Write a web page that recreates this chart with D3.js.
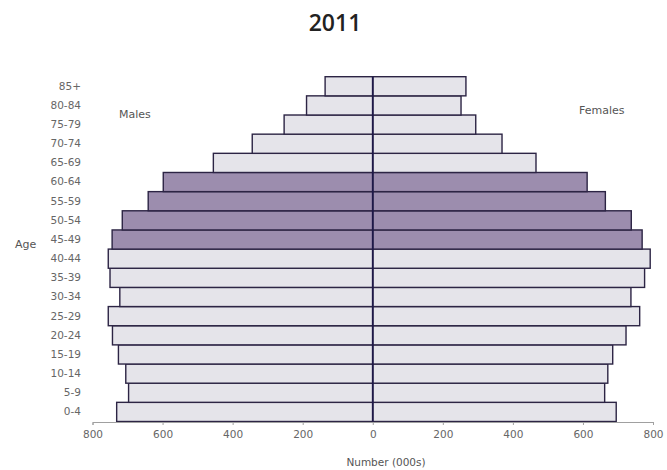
<!DOCTYPE html>
<html><head><meta charset="utf-8">
<script src="https://cdn.jsdelivr.net/npm/d3@7"></script>
<style>body{margin:0;background:#fff}svg{display:block}</style>
</head><body><svg id="c" width="667" height="470"></svg>
<script>
const ages = ["0-4","5-9","10-14","15-19","20-24","25-29","30-34","35-39","40-44","45-49","50-54","55-59","60-64","65-69","70-74","75-79","80-84","85+"];
const males =   [731,697,705,726,743,755,722,750,755,744,715,641,598,455,344,253,189,136];
const females = [695,662,671,685,723,762,737,776,792,769,738,664,612,466,369,294,252,266];
const highlighted = ["45-49","50-54","55-59","60-64"];
const ticks = [800,600,400,200,0,200,400,600,800];

const FF = "DejaVu Sans, sans-serif";
const svg = d3.select("#c");
const x = d3.scaleLinear().domain([-800,800]).range([92.5,653]);
const y = d3.scaleBand().domain(ages.slice().reverse()).range([76.7,421.5]).padding(0);
const fillFor = a => highlighted.includes(a) ? "#9c8dae" : "#e5e4ea";

const g = svg.append("g");
ages.forEach((a,i)=>{
  g.append("rect").attr("x",x(-males[i])).attr("y",y(a))
   .attr("width",x(0)-x(-males[i])).attr("height",y.bandwidth())
   .attr("fill",fillFor(a)).attr("stroke","#2c2444").attr("stroke-width",1.4);
  g.append("rect").attr("x",x(0)).attr("y",y(a))
   .attr("width",x(females[i])-x(0)).attr("height",y.bandwidth())
   .attr("fill",fillFor(a)).attr("stroke","#2c2444").attr("stroke-width",1.4);
});
svg.append("line").attr("x1",x(0)).attr("x2",x(0)).attr("y1",y.range()[0]).attr("y2",y.range()[1])
  .attr("stroke","#1e1848").attr("stroke-width",1.8);

const ax = svg.append("g").attr("transform","translate(0,422)")
  .call(d3.axisBottom(x).tickValues([-800,-600,-400,-200,0,200,400,600,800])
     .tickFormat((d,i)=>ticks[i]).tickSize(3).tickPadding(6));
ax.select(".domain").attr("stroke","#a0a0a0");
ax.selectAll(".tick line").attr("stroke","#a0a0a0");
ax.selectAll("text").attr("fill","#666").attr("font-family",FF).attr("font-size",10.5);

const ay = svg.append("g").attr("transform","translate(81,0)")
  .call(d3.axisLeft(y).tickSize(0).tickPadding(0));
ay.select(".domain").remove();
ay.selectAll("text").attr("fill","#666").attr("font-family",FF).attr("font-size",10.5);

const t = (txt,xx,yy,opt={}) => svg.append("text").text(txt).attr("x",xx).attr("y",yy)
  .attr("font-family",opt.ff||FF).attr("font-size",opt.fs||11)
  .attr("fill",opt.c||"#555").attr("text-anchor",opt.a||"start").attr("font-weight",opt.w||"normal");
t("2011",335,31,{ff:"Open Sans, sans-serif",fs:23,c:"#222",a:"middle",w:"600"});
t("Males",119,118);
t("Females",579,114);
t("Age",15,248);
t("Number (000s)",386,466,{a:"middle",fs:10.5});
</script></body></html>
